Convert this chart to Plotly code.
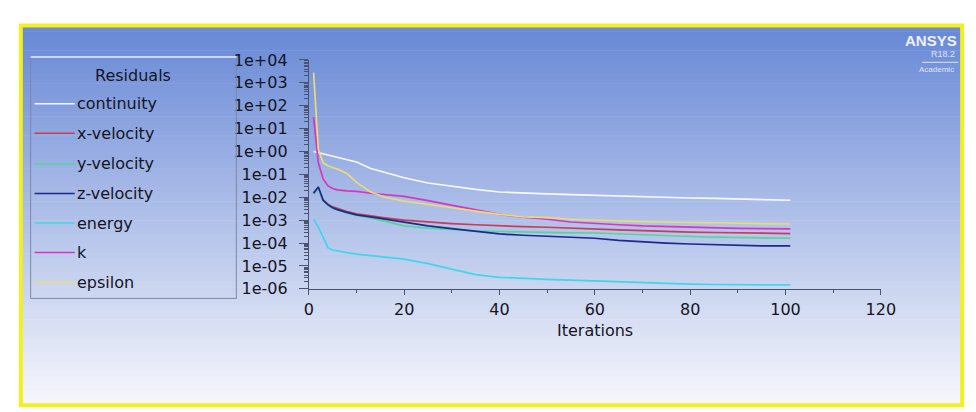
import plotly.graph_objects as go

W, H = 976, 412

iterations = [1, 2, 3, 4, 5, 6, 8, 10, 13, 16, 20, 25, 30, 35, 40, 45, 50, 55, 60, 65, 70, 75, 80, 85, 90, 95, 101]

continuity = [1.0, 0.89, 0.76, 0.66, 0.60, 0.52, 0.44, 0.35, 0.18, 0.12, 0.071, 0.042, 0.030, 0.022, 0.017,
              0.015, 0.014, 0.013, 0.012, 0.011, 0.0105, 0.010, 0.0093, 0.0089, 0.0083, 0.0079, 0.0074]
x_velocity = [0.016, 0.025, 0.0079, 0.005, 0.0038, 0.0032, 0.0024, 0.0019, 0.0015, 0.00126, 0.001, 8.3e-4,
              7.1e-4, 6.3e-4, 5.6e-4, 5.2e-4, 4.9e-4, 4.6e-4, 4.3e-4, 3.8e-4, 3.5e-4, 3.2e-4, 3.0e-4,
              2.9e-4, 2.75e-4, 2.7e-4, 2.6e-4]
y_velocity = [0.014, 0.024, 0.0071, 0.0045, 0.0033, 0.0028, 0.002, 0.0016, 0.00126, 8.9e-4, 5.6e-4, 4.5e-4,
              3.8e-4, 3.4e-4, 3.2e-4, 3.0e-4, 2.9e-4, 2.8e-4, 2.75e-4, 2.5e-4, 2.3e-4, 2.1e-4, 1.95e-4,
              1.8e-4, 1.75e-4, 1.66e-4, 1.62e-4]
z_velocity = [0.015, 0.028, 0.0074, 0.0048, 0.0035, 0.0029, 0.0022, 0.0017, 0.0014, 0.0011, 7.9e-4, 5.6e-4,
              4.3e-4, 3.2e-4, 2.5e-4, 2.2e-4, 1.95e-4, 1.74e-4, 1.62e-4, 1.32e-4, 1.12e-4, 1.0e-4, 9.1e-5,
              8.5e-5, 7.9e-5, 7.6e-5, 7.6e-5]
energy = [0.0011, 5.0e-4, 1.8e-4, 6.3e-5, 5.0e-5, 4.5e-5, 3.8e-5, 3.3e-5, 2.8e-5, 2.4e-5, 2.0e-5, 1.26e-5,
          7.1e-6, 4.2e-6, 3.2e-6, 2.8e-6, 2.6e-6, 2.4e-6, 2.2e-6, 2.0e-6, 1.8e-6, 1.66e-6, 1.6e-6,
          1.55e-6, 1.5e-6, 1.48e-6, 1.48e-6]
k = [32, 0.32, 0.063, 0.032, 0.024, 0.021, 0.019, 0.018, 0.015, 0.013, 0.011, 0.0071, 0.0045, 0.0028,
     0.0018, 0.00135, 0.0011, 8.3e-4, 7.1e-4, 6.3e-4, 5.6e-4, 5.2e-4, 4.9e-4, 4.6e-4, 4.4e-4, 4.3e-4, 4.2e-4]
epsilon = [2800, 1.26, 0.32, 0.24, 0.20, 0.17, 0.11, 0.045, 0.017, 0.010, 0.0068, 0.0047, 0.0035, 0.0025,
           0.0018, 0.0014, 0.0013, 0.0011, 0.0010, 9.3e-4, 8.7e-4, 8.3e-4, 7.9e-4, 7.6e-4, 7.2e-4, 7.1e-4, 6.8e-4]

series_names = ["continuity", "x-velocity", "y-velocity", "z-velocity", "energy", "k", "epsilon"]
series_values = [continuity, x_velocity, y_velocity, z_velocity, energy, k, epsilon]
series_colors = ["#f6f8ff", "#c83c55", "#55d49c", "#1c2a8c", "#3fd6ea", "#d836c0", "#e8dc72"]

y_tickvals = [1e4, 1e3, 1e2, 1e1, 1e0, 1e-1, 1e-2, 1e-3, 1e-4, 1e-5, 1e-6]
y_ticktext = ["1e+04", "1e+03", "1e+02", "1e+01", "1e+00", "1e-01", "1e-02", "1e-03", "1e-04", "1e-05", "1e-06"]
x_tickvals = [0, 20, 40, 60, 80, 100, 120]

FONT = "DejaVu Sans"
TXT = "#15151f"


def px(x):
    return x / W


def py(y):
    return 1 - y / H


fig = go.Figure()
for name, vals, col in zip(series_names, series_values, series_colors):
    fig.add_trace(go.Scatter(x=iterations, y=vals, mode="lines", name=name,
                             line=dict(color=col, width=1.7), showlegend=False,
                             hoverinfo="skip"))

shapes = []
# vertical gradient background
top_c = (103, 136, 214)
bot_c = (247, 247, 252)
y0, y1 = 10, 406
n = 80
for i in range(n):
    a = y0 + (y1 - y0) * i / n
    b = y0 + (y1 - y0) * (i + 1) / n
    f = (i + 0.5) / n
    c = tuple(round(top_c[j] + (bot_c[j] - top_c[j]) * f) for j in range(3))
    shapes.append(dict(type="rect", xref="paper", yref="paper", x0=px(8), x1=px(969),
                       y0=py(b + 0.6), y1=py(a), fillcolor="rgb(%d,%d,%d)" % c,
                       line=dict(width=0), layer="below"))
# yellow frame
shapes.append(dict(type="rect", xref="paper", yref="paper", x0=px(8), x1=px(969), y0=py(407), y1=py(9),
                   line=dict(color="#f2f020", width=4), fillcolor="rgba(0,0,0,0)", layer="above"))
# legend box
shapes.append(dict(type="rect", xref="paper", yref="paper", x0=px(18), x1=px(228), y0=py(295), y1=py(42),
                   line=dict(color="#7c87aa", width=1), fillcolor="rgba(0,0,0,0)", layer="above"))
shapes.append(dict(type="line", xref="paper", yref="paper", x0=px(18), x1=px(228), y0=py(42), y1=py(42),
                   line=dict(color="#e8f0ff", width=1.5), layer="above"))

annotations = [dict(text="Residuals", x=px(122), y=py(61), xref="paper", yref="paper", showarrow=False,
                    xanchor="center", yanchor="middle", font=dict(family=FONT, size=16, color=TXT))]
legend_y = [91, 122, 154, 185, 216, 247, 278]
for name, col, ly in zip(series_names, series_colors, legend_y):
    shapes.append(dict(type="line", xref="paper", yref="paper", x0=px(22), x1=px(63), y0=py(ly), y1=py(ly),
                       line=dict(color=col, width=1.5), layer="above"))
    annotations.append(dict(text=name, x=px(63), y=py(ly), xref="paper", yref="paper", showarrow=False,
                            xanchor="left", yanchor="middle", font=dict(family=FONT, size=16, color=TXT)))

annotations.append(dict(text="Iterations", x=px(594), y=py(329), xref="paper", yref="paper", showarrow=False,
                        xanchor="center", yanchor="middle", font=dict(family=FONT, size=16, color=TXT)))
# ANSYS logo
annotations.append(dict(text="<b>ANSYS</b>", x=px(966), y=py(25), xref="paper", yref="paper", showarrow=False,
                        xanchor="right", yanchor="middle",
                        font=dict(family="Liberation Sans", size=15, color="#eef1fb")))
annotations.append(dict(text="R18.2", x=px(964), y=py(39), xref="paper", yref="paper", showarrow=False,
                        xanchor="right", yanchor="middle",
                        font=dict(family="Liberation Sans", size=9, color="#dfe5f6")))
annotations.append(dict(text="Academic", x=px(963), y=py(55), xref="paper", yref="paper", showarrow=False,
                        xanchor="right", yanchor="middle",
                        font=dict(family="Liberation Sans", size=8, color="#dfe5f6")))
shapes.append(dict(type="line", xref="paper", yref="paper", x0=px(928), x1=px(965), y0=py(47.5), y1=py(47.5),
                   line=dict(color="#dfe5f6", width=1), layer="above"))

fig.update_layout(
    width=W, height=H,
    margin=dict(l=0, r=0, t=0, b=0),
    paper_bgcolor="white",
    plot_bgcolor="rgba(0,0,0,0)",
    shapes=shapes,
    annotations=annotations,
    showlegend=False,
    xaxis=dict(domain=[px(302), px(886)], range=[0, 120], tickvals=x_tickvals,
               ticktext=[str(v) for v in x_tickvals],
               showgrid=False, zeroline=False, showline=True, linecolor="#4a5470", linewidth=1,
               ticks="outside", ticklen=5, tickcolor="#4a5470", ticklabelstandoff=1,
               minor=dict(ticks="outside", ticklen=3, dtick=10, tick0=0, tickcolor="#4a5470", showgrid=False),
               tickfont=dict(family=FONT, size=16, color=TXT)),
    yaxis=dict(domain=[py(285), py(45)], type="log", range=[-6, 4], tickvals=y_tickvals, ticktext=y_ticktext,
               showgrid=False, zeroline=False, showline=True, linecolor="#4a5470", linewidth=1,
               ticks="outside", ticklen=9, tickcolor="#4a5470", ticklabelstandoff=8,
               minor=dict(ticks="outside", ticklen=4, dtick="D1", tickcolor="#4a5470", showgrid=False),
               tickfont=dict(family=FONT, size=16, color=TXT)),
)

fig.write_html("out.html")
